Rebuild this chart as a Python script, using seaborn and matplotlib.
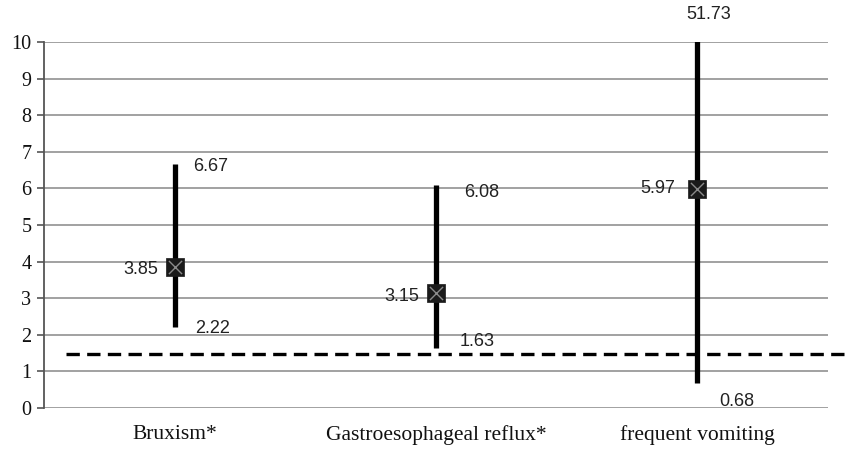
import matplotlib
matplotlib.use("Agg")
import matplotlib.pyplot as plt
import matplotlib.transforms as mtransforms
import seaborn as sns
import pandas as pd

categories = ["Bruxism*", "Gastroesophageal reflux*", "frequent vomiting"]
odds_ratio = [3.85, 3.15, 5.97]
ci_lower = [2.22, 1.63, 0.68]
ci_upper = [6.67, 6.08, 51.73]
reference = 1.47
yticks = list(range(0, 11))

df = pd.DataFrame({"cat": categories, "or": odds_ratio,
                   "lo": ci_lower, "hi": ci_upper})

sns.set_style("white")
fig = plt.figure(figsize=(8.5, 4.5), dpi=100)
ax = fig.add_axes([44/850, 1-408/450, 784/850, 366/450])

# grid lines
for t in yticks:
    ax.axhline(t, color="#9a9a9a", lw=1.3, zorder=1)

# CI bars
ax.vlines(df["cat"], df["lo"], df["hi"], color="black", lw=3.8, zorder=3)

# point estimates
sns.scatterplot(data=df, x="cat", y="or", marker="s", s=160, color="#1a1a1a",
                edgecolor="#1a1a1a", linewidth=0.5, zorder=4, ax=ax, legend=False)
sns.scatterplot(data=df, x="cat", y="or", marker="x", s=90, color="#8a8a8a",
                linewidth=1.0, zorder=5, ax=ax, legend=False)

ax.set_xlim(-0.5, 2.5)
ax.set_ylim(0, 10)

# reference dashed line extending beyond the axes
trans = mtransforms.blended_transform_factory(ax.transAxes, ax.transData)
ax.plot([22/784, 806/784], [reference, reference], transform=trans,
        color="black", lw=2.4, ls=(0, (4, 2.2)), clip_on=False, zorder=2)

lab_font = dict(family="Liberation Sans", fontsize=13, color="#222222")
# labels: estimate on the left
est_off = [(-12, -2), (-12, -3), (-16, 1)]
for i, c in enumerate(categories):
    ax.annotate(f"{odds_ratio[i]:.2f}", (i, odds_ratio[i]), xytext=est_off[i],
                textcoords="offset points", ha="right", va="center", **lab_font)
# upper bounds
up_off = [(13, -2), (20, -5), (8, 20)]
for i, c in enumerate(categories):
    y = min(ci_upper[i], 10)
    ha = "center" if ci_upper[i] > 10 else "left"
    ax.annotate(f"{ci_upper[i]:.2f}", (i, y), xytext=up_off[i],
                textcoords="offset points", ha=ha, va="center", annotation_clip=False, **lab_font)
# lower bounds
lo_off = [(15, -1), (17, 5), (16, -13)]
for i, c in enumerate(categories):
    ax.annotate(f"{ci_lower[i]:.2f}", (i, ci_lower[i]), xytext=lo_off[i],
                textcoords="offset points", ha="left", va="center", **lab_font)

ax.set_yticks(yticks)
ax.set_yticklabels([str(t) for t in yticks], family="Liberation Serif", fontsize=14.5, color="#111111")
ax.set_xticks(range(len(categories)))
ax.set_xticklabels(categories, family="Liberation Serif", fontsize=15.5, color="#111111")
ax.tick_params(axis="y", length=5, width=1.2, color="#555555", left=True, pad=4)
ax.tick_params(axis="x", length=0, pad=12)
ax.set_xlabel("")
ax.set_ylabel("")

for s in ["top", "right", "bottom"]:
    ax.spines[s].set_visible(False)
ax.spines["left"].set_color("#555555")
ax.spines["left"].set_linewidth(1.3)

fig.savefig("out.png", dpi=100)
